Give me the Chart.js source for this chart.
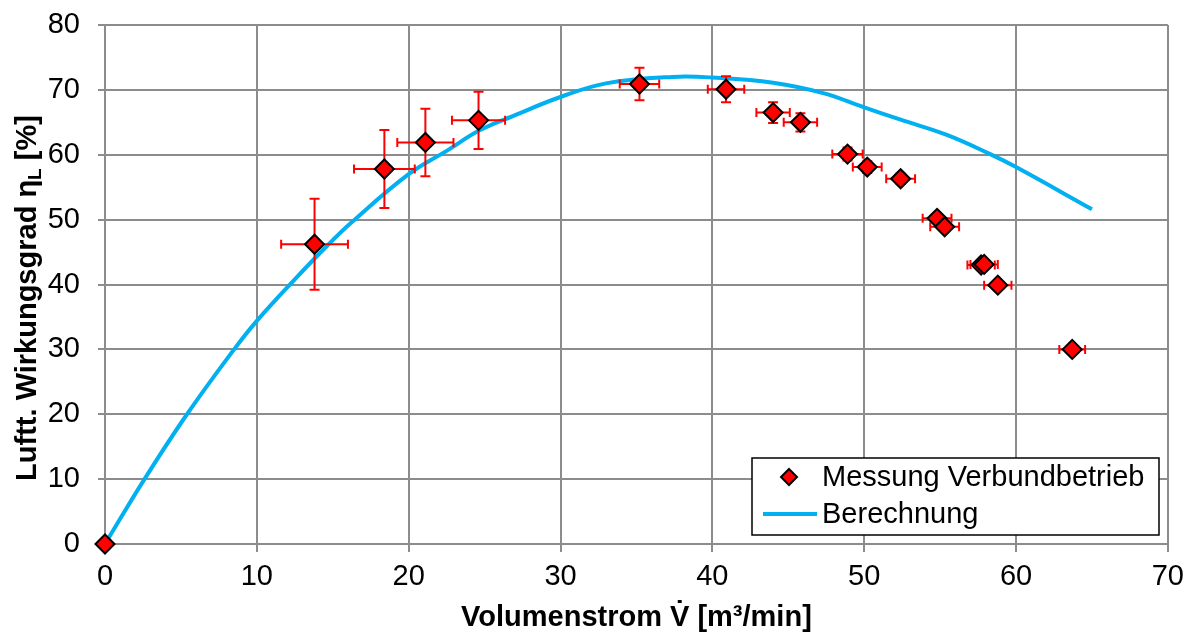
<!DOCTYPE html>
<html>
<head>
<meta charset="utf-8">
<script src="https://cdn.jsdelivr.net/npm/chart.js@4"></script>
<style>
  body { margin: 0; background: #fff; }
</style>
</head>
<body>
<canvas id="chart" width="1192" height="635"></canvas>
<script>
// measured points (Volumenstrom, Wirkungsgrad) with error half-widths
const messX = [0, 13.8, 18.4, 21.1, 24.6, 35.2, 40.9, 44.0, 45.8, 48.9, 50.2, 52.4, 54.8, 55.3, 57.7, 57.9, 58.8, 63.7];
const messY = [0, 46.2, 57.8, 61.9, 65.3, 70.9, 70.1, 66.5, 65.0, 60.1, 58.1, 56.3, 50.2, 48.9, 43.0, 43.1, 39.9, 30.0];
const errX  = [0, 2.2, 2.0, 1.85, 1.75, 1.3, 1.2, 1.1, 1.1, 1.0, 0.95, 0.95, 0.95, 0.95, 0.9, 0.9, 0.9, 0.85];
const errY  = [0, 7.0, 6.0, 5.2, 4.4, 2.5, 2.0, 1.6, 1.4, 1.0, 0.9, 0.8, 0.6, 0.6, 0.5, 0.5, 0.4, 0.3];

// calculated curve
const calcX = [0, 2.6, 5.4, 8.5, 10, 12.5, 14.6, 16.3, 20, 22.5, 24.7, 26.9, 30, 33, 37.4, 40, 44, 47.3, 50, 52.4, 55.4, 58.3, 60, 65];
const calcY = [0, 10, 20, 30, 34.4, 40.8, 45.9, 49.7, 57.0, 60.6, 63.8, 66.0, 68.9, 71.0, 72.0, 71.9, 71.1, 69.5, 67.3, 65.4, 63.1, 60.1, 58.1, 51.6];

const xTicks = [0, 10, 20, 30, 40, 50, 60, 70];
const yTicks = [0, 10, 20, 30, 40, 50, 60, 70, 80];

const FONT = "'Liberation Sans', Arial, sans-serif";
const RED = '#ff0000';
const BLUE = '#00b0f0';
const GRID = '#8c8c8c';

const errorBars = {
  id: 'errorBars',
  beforeDatasetDraw(chart, args) {
    if (args.index !== 0) return;
    const { ctx, scales: { x, y } } = chart;
    ctx.save();
    ctx.strokeStyle = RED;
    ctx.lineWidth = 2;
    messX.forEach((vx, i) => {
      if (!errX[i] && !errY[i]) return;
      const px = x.getPixelForValue(vx);
      const py = y.getPixelForValue(messY[i]);
      const x0 = x.getPixelForValue(vx - errX[i]);
      const x1 = x.getPixelForValue(vx + errX[i]);
      const y0 = y.getPixelForValue(messY[i] - errY[i]);
      const y1 = y.getPixelForValue(messY[i] + errY[i]);
      ctx.beginPath();
      ctx.moveTo(x0, py); ctx.lineTo(x1, py);
      ctx.moveTo(x0, py - 4.5); ctx.lineTo(x0, py + 4.5);
      ctx.moveTo(x1, py - 4.5); ctx.lineTo(x1, py + 4.5);
      ctx.moveTo(px, y0); ctx.lineTo(px, y1);
      ctx.moveTo(px - 5, y0); ctx.lineTo(px + 5, y0);
      ctx.moveTo(px - 5, y1); ctx.lineTo(px + 5, y1);
      ctx.stroke();
    });
    ctx.restore();
  }
};

const extras = {
  id: 'extras',
  afterDraw(chart) {
    const ctx = chart.ctx;
    ctx.save();
    // y axis title with subscript
    const a = 'Luftt. Wirkungsgrad η', sub = 'L', b = ' [%]';
    ctx.font = 'bold 29px ' + FONT;
    const wa = ctx.measureText(a).width, wb = ctx.measureText(b).width;
    ctx.font = 'bold 19px ' + FONT;
    const ws = ctx.measureText(sub).width;
    const total = wa + ws + wb;
    ctx.translate(28, 298);
    ctx.rotate(-Math.PI / 2);
    ctx.fillStyle = '#000';
    ctx.textBaseline = 'middle';
    let cx = -total / 2;
    ctx.font = 'bold 29px ' + FONT;
    ctx.fillText(a, cx, 0); cx += wa;
    ctx.font = 'bold 19px ' + FONT;
    ctx.fillText(sub, cx, 8); cx += ws;
    ctx.font = 'bold 29px ' + FONT;
    ctx.fillText(b, cx, 0);
    ctx.restore();

    // legend box
    ctx.save();
    ctx.fillStyle = '#fff';
    ctx.fillRect(752, 458, 407, 77);
    ctx.strokeStyle = '#000';
    ctx.lineWidth = 1.5;
    ctx.strokeRect(752, 458, 407, 77);
    // diamond
    ctx.beginPath();
    ctx.moveTo(789, 469); ctx.lineTo(797, 477); ctx.lineTo(789, 485); ctx.lineTo(781, 477);
    ctx.closePath();
    ctx.fillStyle = RED; ctx.fill();
    ctx.lineWidth = 2; ctx.strokeStyle = '#000'; ctx.stroke();
    // line
    ctx.beginPath();
    ctx.moveTo(763, 514); ctx.lineTo(817, 514);
    ctx.strokeStyle = BLUE; ctx.lineWidth = 4; ctx.stroke();
    ctx.fillStyle = '#000';
    ctx.font = '29px ' + FONT;
    ctx.textBaseline = 'middle';
    ctx.fillText('Messung Verbundbetrieb', 822, 478);
    ctx.fillText('Berechnung', 822, 515);
    ctx.restore();
  }
};

const ctx = document.getElementById('chart').getContext('2d');
const myChart = new Chart(ctx, {
  type: 'scatter',
  data: {
    datasets: [{
      label: 'Messung Verbundbetrieb',
      data: messX.map((v, i) => ({ x: v, y: messY[i] })),
      pointStyle: 'rectRot',
      pointRadius: 9.5,
      backgroundColor: RED,
      borderColor: '#000',
      borderWidth: 2,
      clip: false,
      order: 1
    }, {
      label: 'Berechnung',
      type: 'line',
      data: calcX.map((v, i) => ({ x: v, y: calcY[i] })),
      borderColor: BLUE,
      borderWidth: 4,
      pointRadius: 0,
      fill: false,
      tension: 0.4,
      order: 2
    }]
  },
  options: {
    responsive: false,
    animation: false,
    layout: { padding: { top: 25, right: 22, left: 0, bottom: 0 } },
    plugins: {
      legend: { display: false },
      tooltip: { enabled: false }
    },
    scales: {
      x: {
        type: 'linear',
        min: 0,
        max: 70,
        afterBuildTicks: s => { s.ticks = xTicks.map(v => ({ value: v })); },
        afterFit: s => { s.height = 91; },
        ticks: {
          color: '#000',
          padding: 8,
          maxRotation: 0,
          font: { family: FONT, size: 29 }
        },
        grid: { color: GRID, lineWidth: 2, tickLength: 8 },
        border: { color: GRID, width: 2 },
        title: {
          display: true,
          text: 'Volumenstrom V\u0307 [m³/min]',
          color: '#000',
          padding: { top: 0, bottom: 0 },
          font: { family: FONT, size: 29, weight: 'bold' }
        }
      },
      y: {
        type: 'linear',
        min: 0,
        max: 80,
        afterBuildTicks: s => { s.ticks = yTicks.map(v => ({ value: v })); },
        afterFit: s => { s.width = 105; s.paddingTop = 0; s.paddingBottom = 0; },
        ticks: {
          color: '#000',
          padding: 18,
          font: { family: FONT, size: 29 }
        },
        grid: { color: GRID, lineWidth: 2, tickLength: 7 },
        border: { color: GRID, width: 2 }
      }
    }
  },
  plugins: [errorBars, extras]
});
</script>
</body>
</html>
